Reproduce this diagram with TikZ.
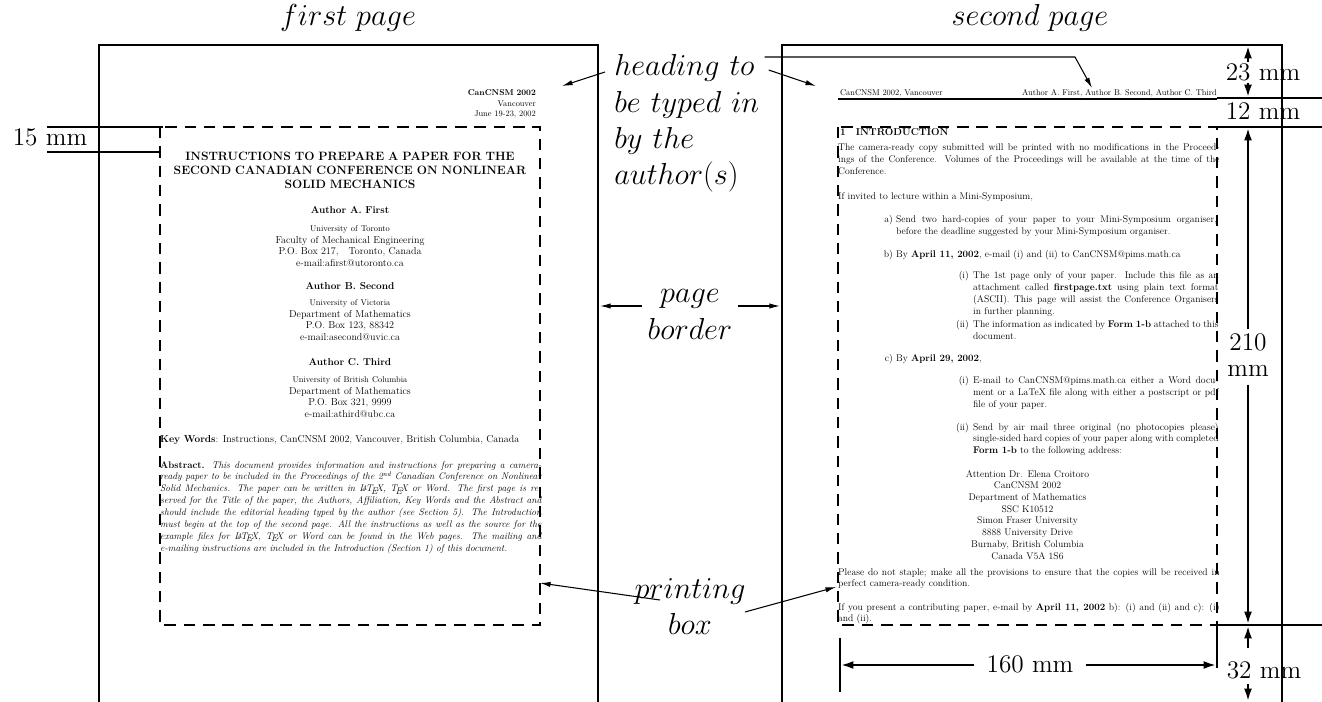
\documentclass[tikz,border=0pt]{standalone}
\usetikzlibrary{arrows.meta, positioning}

\begin{document}
\begin{tikzpicture}[x=0.02cm, y=-0.02cm,
  pageborder/.style={line width=1.4pt},
  printbox/.style={line width=1.1pt, dash pattern=on 6.5pt off 4.5pt},
  dimline/.style={line width=1.4pt},
  dimarrow/.style={line width=1.2pt, -{Latex[length=7pt, width=4.5pt]}},
  pointer/.style={line width=0.6pt, -{Latex[length=6pt, width=3pt]}},
  pagetext/.style={scale=0.4768, transform shape, inner sep=0pt, font=\fontsize{11.6}{14}\selectfont},
  caption/.style={inner sep=0pt, font=\fontsize{17.28}{20.5}\selectfont},
  measure/.style={inner sep=0pt, font=\Large}]

  \useasboundingbox (0,0) rectangle (1322,702);

  \draw[pageborder] (99,702) -- (99,45) -- (598,45) -- (598,702);
  \draw[pageborder] (782,702) -- (782,45) -- (1282,45) -- (1282,702);
  \draw[printbox] (160,127) rectangle (540,625);
  \draw[printbox] (838,127) rectangle (1217,625);

  \node[caption, anchor=base] (firstcap) at (348,26) {$first\ page$};
  \node[caption, anchor=base] (secondcap) at (1030,26) {$second\ page$};

  \node[pagetext, anchor=base east, text width=4cm, align=right, font=\fontsize{10}{12}\selectfont] (headone) at (536,96)
    {\textbf{CanCNSM 2002}\\Vancouver\\June 19-23, 2002};
  \node[pagetext, anchor=base, text width=160mm, align=center, font=\fontsize{14.4}{16.5}\selectfont\bfseries] (title) at (350,161)
    {INSTRUCTIONS TO PREPARE A PAPER FOR THE\\SECOND CANADIAN CONFERENCE ON NONLINEAR\\SOLID MECHANICS};
  \node[pagetext, anchor=base, font=\fontsize{12}{14}\selectfont\bfseries] (authorA) at (350,214) {Author A. First};
  \node[pagetext, anchor=base, text width=160mm, align=center, font=\fontsize{12}{13.6}\selectfont] (affilA) at (350,232)
    {{\fontsize{10}{12}\selectfont University of Toronto}\\Faculty of Mechanical Engineering\\P.O. Box 217,\quad Toronto, Canada\\e-mail:afirst@utoronto.ca};
  \node[pagetext, anchor=base, font=\fontsize{12}{14}\selectfont\bfseries] (authorB) at (350,290) {Author B. Second};
  \node[pagetext, anchor=base, text width=160mm, align=center, font=\fontsize{12}{13.6}\selectfont] (affilB) at (350,306)
    {{\fontsize{10}{12}\selectfont University of Victoria}\\Department of Mathematics\\P.O. Box 123, 88342\\e-mail:asecond@uvic.ca};
  \node[pagetext, anchor=base, font=\fontsize{12}{14}\selectfont\bfseries] (authorC) at (350,366) {Author C. Third};
  \node[pagetext, anchor=base, text width=160mm, align=center, font=\fontsize{12}{13.6}\selectfont] (affilC) at (350,383)
    {{\fontsize{10}{12}\selectfont University of British Columbia}\\Department of Mathematics\\P.O. Box 321, 9999\\e-mail:athird@ubc.ca};
  \node[pagetext, anchor=base west, font=\fontsize{12}{14}\selectfont] (keywords) at (160,443)
    {\textbf{Key Words}: Instructions, CanCNSM 2002, Vancouver, British Columbia, Canada};
  \node[pagetext, anchor=base west, text width=160mm, align=justify, font=\fontsize{11.5}{14.3}\selectfont] (abstract) at (160,468)
    {\textbf{Abstract.} \textit{This document provides information and instructions for preparing a camera-\linebreak
    ready paper to be included in the Proceedings of the 2\textsuperscript{nd} Canadian Conference on Nonlinear\linebreak
    Solid Mechanics. The paper can be written in \LaTeX, \TeX\ or Word. The first page is re-\linebreak
    served for the Title of the paper, the Authors, Affiliation, Key Words and the Abstract and\linebreak
    should include the editorial heading typed by the author (see Section 5). The Introduction\linebreak
    must begin at the top of the second page. All the instructions as well as the source for the\linebreak
    example files for \LaTeX, \TeX\ or Word can be found in the Web pages. The mailing and\linebreak
    e-mailing instructions are included in the Introduction (Section 1) of this document.}};

  \node[pagetext, anchor=base west, font=\fontsize{10}{12}\selectfont] (headtwoL) at (840,96) {CanCNSM 2002, Vancouver};
  \node[pagetext, anchor=base east, font=\fontsize{10}{12}\selectfont] (headtwoR) at (1217,96)
    {Author A. First, Author B. Second, Author C. Third};
  \draw[line width=0.6pt] (838,99) -- (1217,99);
  \node[pagetext, anchor=base west, font=\fontsize{12}{14}\selectfont\bfseries] (intro) at (840,136) {1\quad INTRODUCTION};
  \node[pagetext, anchor=base west, text width=160mm, align=justify] (paraone) at (838,151)
    {The camera-ready copy submitted will be printed with no modifications in the Proceed-\linebreak
    ings of the Conference. Volumes of the Proceedings will be available at the time of the\linebreak
    Conference.};
  \node[pagetext, anchor=base west] (paratwo) at (838,200) {If invited to lecture within a Mini-Symposium,};
  \node[pagetext, anchor=base east] (itema) at (893,223) {a)};
  \node[pagetext, anchor=base west, text width=13.46cm, align=justify] (texta) at (896,223)
    {Send two hard-copies of your paper to your Mini-Symposium organiser,\linebreak
    before the deadline suggested by your Mini-Symposium organiser.};
  \node[pagetext, anchor=base east] (itemb) at (893,258) {b)};
  \node[pagetext, anchor=base west] (textb) at (896,258)
    {By \textbf{April 11, 2002}, e-mail (i) and (ii) to CanCNSM@pims.math.ca};
  \node[pagetext, anchor=base east] (itembi) at (969,279) {(i)};
  \node[pagetext, anchor=base west, text width=10.3cm, align=justify] (textbi) at (973,279)
    {The 1st page only of your paper. Include this file as an\linebreak
    attachment called \textbf{firstpage.txt} using plain text format\linebreak
    (ASCII). This page will assist the Conference Organisers\linebreak
    in further planning.};
  \node[pagetext, anchor=base east] (itembii) at (969,328) {(ii)};
  \node[pagetext, anchor=base west, text width=10.3cm, align=justify] (textbii) at (973,328)
    {The information as indicated by \textbf{Form 1-b} attached to this\linebreak
    document.};
  \node[pagetext, anchor=base east] (itemc) at (893,362) {c)};
  \node[pagetext, anchor=base west] (textc) at (896,362) {By \textbf{April 29, 2002},};
  \node[pagetext, anchor=base east] (itemci) at (969,384) {(i)};
  \node[pagetext, anchor=base west, text width=10.3cm, align=justify] (textci) at (973,384)
    {E-mail to CanCNSM@pims.math.ca either a Word docu-\linebreak
    ment or a LaTeX file along with either a postscript or pdf\linebreak
    file of your paper.};
  \node[pagetext, anchor=base east] (itemcii) at (969,430) {(ii)};
  \node[pagetext, anchor=base west, text width=10.3cm, align=justify] (textcii) at (973,430)
    {Send by air mail three original (no photocopies please)\linebreak
    single-sided hard copies of your paper along with completed\linebreak
    \textbf{Form 1-b} to the following address:};
  \node[pagetext, anchor=base, text width=160mm, align=center] (address) at (1027.5,477)
    {Attention Dr. Elena Croitoro\\CanCNSM 2002\\Department of Mathematics\\SSC K10512\\Simon Fraser University\\8888 University Drive\\Burnaby, British Columbia\\Canada V5A 1S6};
  \node[pagetext, anchor=base west, text width=160mm, align=justify] (parathree) at (838,575)
    {Please do not staple; make all the provisions to ensure that the copies will be received in\linebreak
    perfect camera-ready condition.};
  \node[pagetext, anchor=base west, text width=160mm, align=justify] (parafour) at (838,610)
    {If you present a contributing paper, e-mail by \textbf{April 11, 2002} b): (i) and (ii) and c): (i)\linebreak
    and (ii).};

  \node[caption, anchor=base west, text width=2.9cm, align=left] (headcap) at (614,76)
    {$heading\ to$\\$be\ typed\ in$\\$by\ the$\\$author(s)$};
  \node[caption, anchor=base, text width=1.9cm, align=center] (bordercap) at (690,303) {$page$\\$border$};
  \node[caption, anchor=base, text width=2.6cm, align=center] (boxcap) at (690,598) {$printing$\\$box$};

  \coordinate (headtipA) at (562,86);
  \coordinate (headtipB) at (816,86);
  \coordinate (headtipC) at (1092,88);
  \coordinate (bendC) at (1075,57);
  \coordinate (bordertipA) at (600,306);
  \coordinate (bordertipB) at (780,306);
  \coordinate (boxtipA) at (540,583);
  \coordinate (boxtipB) at (836,587);
  \draw[pointer] ([shift={(-9,-4)}]headcap.base west) -- (headtipA);
  \draw[pointer] ([shift={(9,-6)}]headcap.base east) -- (headtipB);
  \draw[pointer] ([shift={(5,-19)}]headcap.base east) -- (bendC) -- (headtipC);
  \draw[pointer] (bordercap.west |- bordertipA) -- (bordertipA);
  \draw[pointer] (bordercap.east |- bordertipB) -- (bordertipB);
  \draw[pointer] ([shift={(-30,2)}]boxcap.base) -- (boxtipA);
  \draw[pointer] ([shift={(55,14)}]boxcap.base) -- (boxtipB);

  \draw[dimline] (47,127) -- (163,127);
  \draw[dimline] (47,152) -- (160,152);
  \node[measure, anchor=base] (fifteen) at (50,146) {15 mm};

  \draw[dimline] (1217,98) -- (1322,98);
  \draw[dimline] (1217,127) -- (1322,127);
  \draw[dimline] (1217,625) -- (1322,625);
  \node[measure, anchor=base] (twentythree) at (1263,81) {23 mm};
  \node[measure, anchor=base] (twelve) at (1263,120) {12 mm};
  \node[measure, anchor=base, text width=1.2cm, align=center, font=\fontsize{14.4}{14.4}\selectfont] (twohundredten) at (1248,351) {210\\mm};
  \node[measure, anchor=base] (thirtytwo) at (1264,678) {32 mm};
  \node[measure] (onesixty) at (1030,664) {160 mm};

  \coordinate (dimtopA) at (1248,46);
  \coordinate (dimtopB) at (1248,97);
  \coordinate (boxtop) at (1248,128);
  \coordinate (boxbot) at (1248,624);
  \coordinate (boxbotB) at (1248,626);
  \coordinate (pagebot) at (1248,701);
  \coordinate (widthL) at (841,665);
  \coordinate (widthR) at (1216,665);
  \draw[dimarrow] ([shift={(0,-2)}]twentythree.north -| dimtopA) -- (dimtopA);
  \draw[dimarrow] ([shift={(0,1)}]twentythree.south -| dimtopB) -- (dimtopB);
  \draw[dimarrow] ([shift={(0,-5)}]twohundredten.north) -- (boxtop);
  \draw[dimarrow] ([shift={(0,8)}]twohundredten.south) -- (boxbot);
  \draw[dimarrow] ([shift={(0,-13)}]thirtytwo.north -| boxbotB) -- (boxbotB);
  \draw[dimarrow] ([shift={(0,5)}]thirtytwo.south -| pagebot) -- (pagebot);
  \draw[dimline] (840,638) -- (840,692);
  \draw[dimline] (1217,625) -- (1217,668);
  \draw[dimarrow] ([shift={(-12,0)}]onesixty.west |- widthL) -- (widthL);
  \draw[dimarrow] ([shift={(12,0)}]onesixty.east |- widthR) -- (widthR);
\end{tikzpicture}
\end{document}
